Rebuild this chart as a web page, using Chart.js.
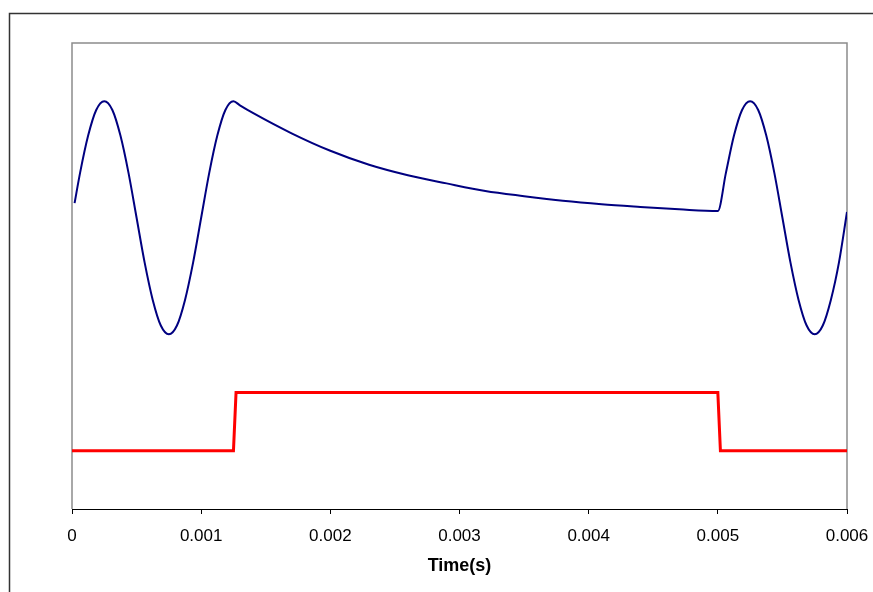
<!DOCTYPE html>
<html>
<head>
<meta charset="utf-8">
<script src="https://cdn.jsdelivr.net/npm/chart.js@4/dist/chart.umd.min.js"></script>
<style>
  html, body { margin: 0; padding: 0; background: #fff; }
  #wrap { width: 873px; height: 592px; }
</style>
</head>
<body>
<div id="wrap"><canvas id="chart"></canvas></div>
<script>
// blue trace: oscillation, decay, oscillation again
const waveTime = [
  0.00002, 0.0000625, 0.000125, 0.0001875, 0.00025, 0.0003125, 0.000375, 0.0004375,
  0.0005, 0.0005625, 0.000625, 0.0006875, 0.00075, 0.0008125, 0.000875, 0.0009375,
  0.001, 0.0010625, 0.001125, 0.0011875, 0.00125,
  0.0013, 0.0014, 0.0017, 0.002, 0.0023, 0.0026, 0.0029, 0.0032, 0.0035,
  0.0038, 0.0041, 0.0044, 0.0047, 0.005,
  0.0050625, 0.005125, 0.0051875, 0.00525, 0.0053125, 0.005375, 0.0054375,
  0.0055, 0.0055625, 0.005625, 0.0056875, 0.00575, 0.0058125, 0.005875, 0.0059375, 0.006
];
const waveValue = [
  5.25, 5.77, 6.41, 6.85, 7.0, 6.85, 6.41, 5.77,
  5.0, 4.23, 3.59, 3.15, 3.0, 3.15, 3.59, 4.23,
  5.0, 5.77, 6.41, 6.85, 7.0,
  6.93, 6.80, 6.45, 6.15, 5.91, 5.73, 5.59, 5.46, 5.37,
  5.29, 5.23, 5.185, 5.145, 5.115,
  5.77, 6.41, 6.85, 7.0, 6.85, 6.41, 5.77,
  5.0, 4.23, 3.59, 3.15, 3.0, 3.15, 3.59, 4.23, 5.1
];

// red trace: gate pulse
const pulseTime = [0, 0.00125, 0.00127, 0.005, 0.00502, 0.006];
const pulseValue = [1, 1, 2, 2, 1, 1];

const xTicks = [0, 0.001, 0.002, 0.003, 0.004, 0.005, 0.006];
const xTickLabels = ['0', '0.001', '0.002', '0.003', '0.004', '0.005', '0.006'];

const toPoints = (xs, ys) => xs.map((x, i) => ({ x: x, y: ys[i] }));

// frame around the whole chart and grey plot-area box
const frames = {
  id: 'frames',
  beforeDraw(chart) {
    const c = chart.ctx;
    const a = chart.chartArea;
    c.save();
    c.strokeStyle = '#333';
    c.lineWidth = 1.5;
    c.beginPath();
    c.moveTo(9.5, 592);
    c.lineTo(9.5, 13.5);
    c.lineTo(873, 13.5);
    c.stroke();
    c.strokeStyle = '#8c8c8c';
    c.lineWidth = 1.5;
    c.beginPath();
    c.moveTo(a.left, a.bottom);
    c.lineTo(a.left, a.top);
    c.lineTo(a.right, a.top);
    c.lineTo(a.right, a.bottom);
    c.stroke();
    c.restore();
  }
};

const ctx = document.getElementById('chart').getContext('2d');
new Chart(ctx, {
  type: 'line',
  data: {
    datasets: [{
      label: 'Output',
      data: toPoints(waveTime, waveValue),
      borderColor: '#000080',
      borderWidth: 2,
      pointRadius: 0,
      cubicInterpolationMode: 'monotone'
    }, {
      label: 'Gate',
      data: toPoints(pulseTime, pulseValue),
      borderColor: '#ff0000',
      borderWidth: 3,
      pointRadius: 0,
      tension: 0
    }]
  },
  options: {
    responsive: true,
    maintainAspectRatio: false,
    animation: false,
    layout: { padding: { left: 72, right: 26, top: 43, bottom: 11 } },
    plugins: { legend: { display: false }, tooltip: { enabled: false } },
    scales: {
      x: {
        type: 'linear',
        min: 0,
        max: 0.006,
        afterBuildTicks: axis => { axis.ticks = xTicks.map(v => ({ value: v })); },
        // let the layout padding decide the plot edges, not the label overhang
        afterFit: axis => { axis.paddingLeft = 0; axis.paddingRight = 0; },
        ticks: {
          color: '#000',
          padding: 12,
          maxRotation: 0,
          font: { family: 'Liberation Sans, Arial', size: 17 },
          callback: (v) => xTickLabels[xTicks.indexOf(v)] ?? v
        },
        grid: { display: true, drawOnChartArea: false, drawTicks: true, tickLength: 5, color: '#000' },
        border: { display: true, color: '#000', width: 1 },
        title: {
          display: true,
          text: 'Time(s)',
          color: '#000',
          padding: { top: -3, bottom: 4 },
          font: { family: 'Liberation Sans, Arial', size: 18, weight: 'bold' }
        }
      },
      y: {
        display: false,
        min: 0,
        max: 8
      }
    }
  },
  plugins: [frames]
});
</script>
</body>
</html>
